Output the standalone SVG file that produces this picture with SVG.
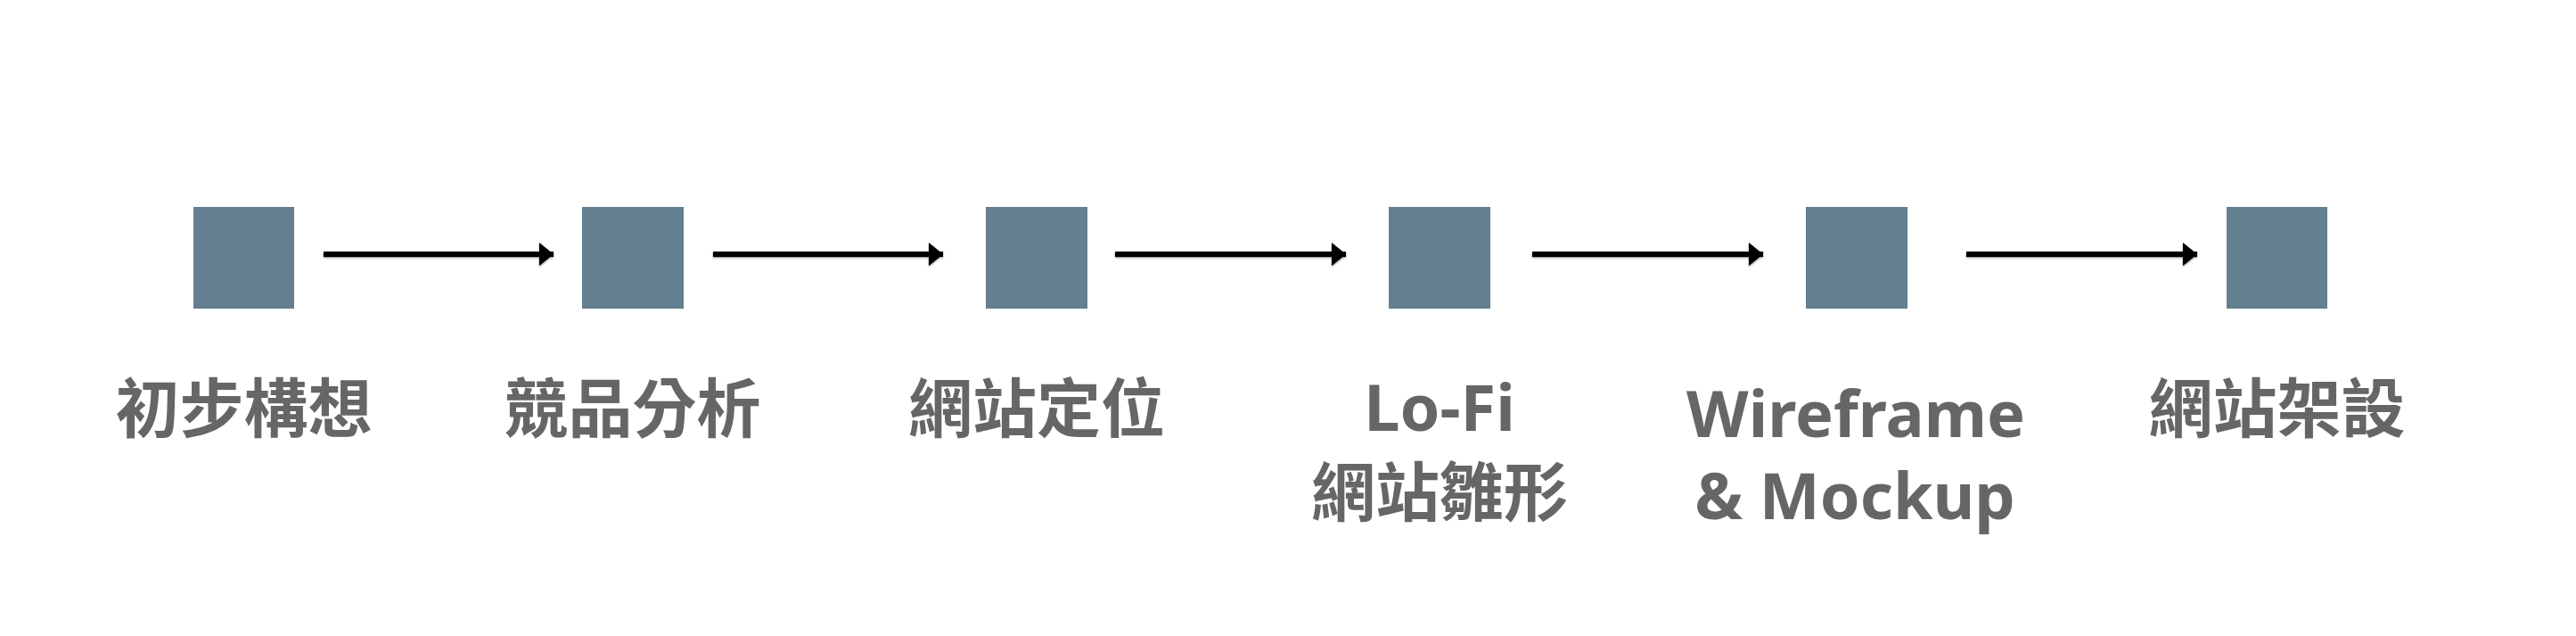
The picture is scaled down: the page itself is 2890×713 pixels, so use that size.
<svg xmlns="http://www.w3.org/2000/svg" width="2890" height="713" viewBox="0 0 2890 713">
<style>
.box{fill:#647F8F}
.lbl{font-family:"Noto Sans","Noto Sans CJK TC",sans-serif;font-weight:700;font-size:72px;fill:#666666;text-anchor:middle}
.arr{stroke:#000;stroke-width:6;fill:none;marker-end:url(#ah)}
</style>
<defs>
<marker id="ah" markerUnits="userSpaceOnUse" markerWidth="18" markerHeight="28" refX="16" refY="14" orient="auto">
<path d="M0,1 L16,14 L0,27 Z" fill="#000"/>
</marker>
<filter id="sh" filterUnits="userSpaceOnUse" x="0" y="0" width="2890" height="713">
<feGaussianBlur in="SourceAlpha" stdDeviation="1.3"/>
<feOffset dy="1"/>
<feComponentTransfer><feFuncA type="linear" slope="0.5"/></feComponentTransfer>
<feMerge><feMergeNode/><feMergeNode in="SourceGraphic"/></feMerge>
</filter>
</defs>
<rect width="2890" height="713" fill="#fff"/>
<g id="connectors" filter="url(#sh)">
<line class="arr" x1="363" y1="285" x2="621" y2="285"/>
<line class="arr" x1="800" y1="285" x2="1058" y2="285"/>
<line class="arr" x1="1251" y1="285" x2="1510" y2="285"/>
<line class="arr" x1="1719" y1="285" x2="1978" y2="285"/>
<line class="arr" x1="2206" y1="285" x2="2465" y2="285"/>
</g>
<g id="n1"><rect class="box" x="217" y="232" width="113" height="114"/><text class="lbl" x="273.5" y="484">初步構想</text></g>
<g id="n2"><rect class="box" x="653" y="232" width="114" height="114"/><text class="lbl" x="709.5" y="484">競品分析</text></g>
<g id="n3"><rect class="box" x="1106" y="232" width="114" height="114"/><text class="lbl" x="1163" y="484">網站定位</text></g>
<g id="n4"><rect class="box" x="1558" y="232" width="114" height="114"/><text class="lbl" x="1615" y="483">Lo-Fi</text><text class="lbl" x="1615" y="578">網站雛形</text></g>
<g id="n5"><rect class="box" x="2026" y="232" width="114" height="114"/><text class="lbl" x="2082" y="490">Wireframe</text><text class="lbl" x="2081" y="582">&amp; Mockup</text></g>
<g id="n6"><rect class="box" x="2498" y="232" width="113" height="114"/><text class="lbl" x="2554.5" y="484">網站架設</text></g>
</svg>
